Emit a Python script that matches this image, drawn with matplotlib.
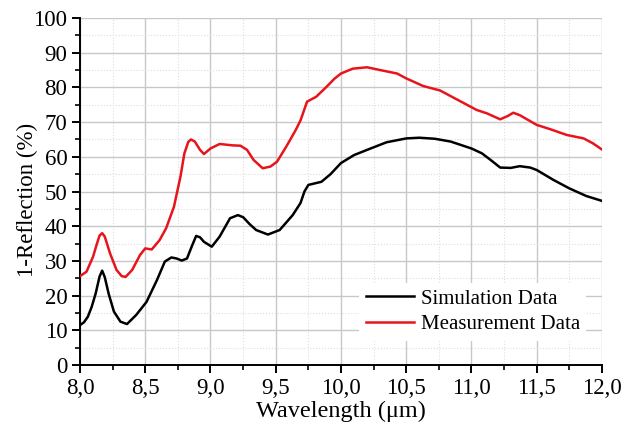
import matplotlib
matplotlib.use('Agg')
import matplotlib.pyplot as plt
from matplotlib.ticker import MultipleLocator, FuncFormatter

plt.rcParams['font.family'] = ['Liberation Serif', 'DejaVu Serif']

# Simulacion (curva negra)
wl_sim = [8.00, 8.03, 8.06, 8.09, 8.12, 8.15, 8.17, 8.19, 8.22, 8.26, 8.31, 8.36,
          8.43, 8.51, 8.59, 8.65, 8.70, 8.74, 8.78, 8.82, 8.86, 8.89, 8.92, 8.95,
          9.01, 9.07, 9.15, 9.21, 9.25, 9.30, 9.35, 9.44, 9.53, 9.63, 9.69, 9.72,
          9.75, 9.85, 9.92, 10.00, 10.10, 10.20, 10.35, 10.50, 10.60, 10.72, 10.84,
          11.00, 11.08, 11.15, 11.22, 11.30, 11.37, 11.45, 11.50, 11.63, 11.75,
          11.88, 12.00]
ref_sim = [11.5, 12.3, 13.9, 16.8, 20.6, 25.5, 27.2, 25.3, 20.5, 15.4, 12.5, 11.8,
           14.4, 18.2, 24.5, 29.8, 31.0, 30.7, 30.1, 30.7, 34.5, 37.2, 36.8, 35.5,
           34.1, 37.0, 42.3, 43.2, 42.6, 40.6, 38.9, 37.6, 38.9, 43.2, 46.7, 50.0,
           51.9, 52.8, 55.0, 58.2, 60.5, 62.0, 64.2, 65.3, 65.5, 65.2, 64.4,
           62.4, 61.0, 59.0, 56.9, 56.8, 57.3, 56.9, 56.2, 53.3, 50.9,
           48.7, 47.3]

# Medicion (curva roja)
wl_med = [8.00, 8.05, 8.10, 8.13, 8.15, 8.17, 8.19, 8.23, 8.28, 8.32, 8.35, 8.40,
          8.46, 8.50, 8.55, 8.61, 8.66, 8.72, 8.77, 8.80, 8.83, 8.85, 8.88, 8.92,
          8.95, 9.00, 9.07, 9.17, 9.23, 9.28, 9.33, 9.40, 9.46, 9.51, 9.58, 9.65,
          9.69, 9.74, 9.81, 9.89, 9.95, 10.00, 10.09, 10.20, 10.30, 10.43, 10.50,
          10.63, 10.76, 10.89, 11.04, 11.12, 11.22, 11.28, 11.32, 11.37, 11.50,
          11.60, 11.73, 11.86, 11.93, 12.00]
ref_med = [25.6, 26.9, 31.2, 35.0, 37.3, 38.0, 37.0, 32.2, 27.4, 25.6, 25.4, 27.4,
           31.7, 33.6, 33.3, 36.0, 39.4, 45.6, 54.3, 61.0, 64.3, 65.0, 64.4, 62.0,
           60.8, 62.4, 63.7, 63.3, 63.2, 62.0, 59.1, 56.7, 57.2, 58.6, 62.9, 67.5,
           70.5, 75.9, 77.3, 80.2, 82.5, 84.0, 85.4, 85.8, 85.0, 84.0, 82.6,
           80.4, 79.1, 76.5, 73.5, 72.5, 70.8, 71.8, 72.7, 72.0, 69.2,
           68.0, 66.3, 65.3, 63.9, 62.1]

fig = plt.figure(figsize=(6.22, 4.36), dpi=100)
ax = fig.add_axes([0.1286, 0.1628, 0.8392, 0.7959])

ax.plot(wl_sim, ref_sim, color='black', linewidth=1.8, label='Simulation Data', zorder=3)
ax.plot(wl_med, ref_med, color='#e8141c', linewidth=1.8, label='Measurement Data', zorder=3)

ax.set_xlim(8, 12)
ax.set_ylim(0, 100)

ax.xaxis.set_major_locator(MultipleLocator(0.5))
ax.xaxis.set_minor_locator(MultipleLocator(0.25))
ax.yaxis.set_major_locator(MultipleLocator(10))
ax.yaxis.set_minor_locator(MultipleLocator(5))
ax.xaxis.set_major_formatter(FuncFormatter(lambda v, p: ('%.1f' % v).replace('.', ',')))
ax.yaxis.set_major_formatter(FuncFormatter(lambda v, p: '%d' % round(v)))

ax.grid(which='major', color='#c8c8c8', linewidth=1.0, linestyle='-', zorder=0)
ax.grid(which='minor', color='#dedede', linewidth=0.8, linestyle=':', zorder=0)
ax.set_axisbelow(True)

for s in ['top', 'right']:
    ax.spines[s].set_visible(False)
for s in ['left', 'bottom']:
    ax.spines[s].set_linewidth(1.4)

ax.tick_params(which='major', direction='out', length=6, width=1.4, labelsize=16.5, pad=3)
ax.tick_params(which='minor', direction='out', length=3.5, width=1.2)

ax.set_xlabel('Wavelength (\u03bcm)', fontsize=17.5, labelpad=2)
ax.set_ylabel('1-Reflection (%)', fontsize=16.5)
ax.yaxis.set_label_coords(-0.08, 0.475)

leg = ax.legend(loc='lower right', bbox_to_anchor=(0.99, 0.04), frameon=True,
                fontsize=15, handlelength=2.3, handletextpad=0.35,
                labelspacing=0.3, borderpad=0.3)
leg.get_frame().set_facecolor('white')
leg.get_frame().set_edgecolor('none')
leg.get_frame().set_alpha(1.0)

fig.savefig('out.png', dpi=100)
